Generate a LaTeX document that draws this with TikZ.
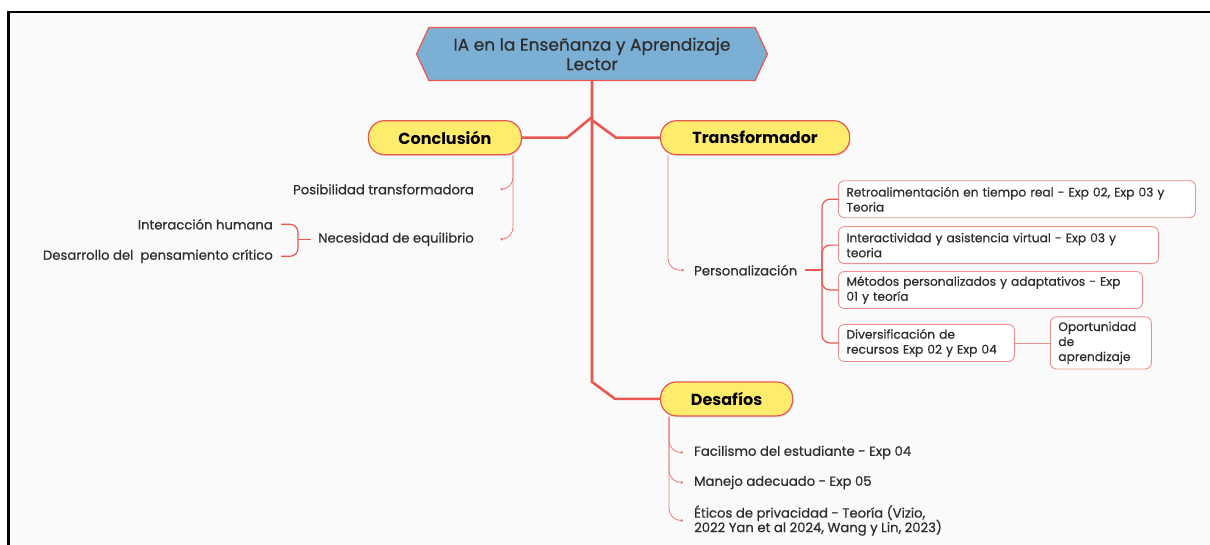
\documentclass[tikz,border=0pt]{standalone}
\usepackage{fontspec}
\setmainfont{Poppins}
\newfontfamily\medfont{Poppins}[FakeBold=0.6]
\usetikzlibrary{arrows.meta,positioning,shapes.symbols,shadows}

\definecolor{trunkred}{RGB}{232,88,80}
\definecolor{twigred}{RGB}{236,122,116}
\definecolor{boxred}{RGB}{238,145,140}
\definecolor{pillyellow}{RGB}{255,236,108}
\definecolor{rootblue}{RGB}{124,175,212}
\definecolor{inkgray}{RGB}{45,45,45}
\definecolor{paper}{RGB}{250,250,250}

\begin{document}
\lineskiplimit=-6pt
\begin{tikzpicture}[
        x=1pt, y=-1pt,
        rootbox/.style={signal, signal to=west and east, signal pointer angle=130, draw=trunkred, line width=1.2pt, fill=rootblue, minimum width=351pt, minimum height=53pt, align=center, font=\medfont\fontsize{17}{19.5}\selectfont, text=inkgray},
        pill/.style={draw=trunkred, line width=1.2pt, fill=pillyellow, rounded corners=16pt, minimum height=34pt, font=\fontsize{16}{18}\selectfont\bfseries, text=black, drop shadow={opacity=0.2, shadow xshift=1pt, shadow yshift=-1.5pt}},
        leaf/.style={inner sep=2pt, font=\medfont\fontsize{13.2}{14.5}\selectfont, text=inkgray},
        idea/.style={draw=boxred, line width=0.9pt, rounded corners=6pt, fill=white, align=left, inner xsep=8pt, inner ysep=4pt, minimum height=37pt, font=\medfont\fontsize{12.2}{15}\selectfont, text=inkgray},
        trunk/.style={draw=trunkred, line width=2.6pt},
        twig/.style={draw=twigred, line width=0.8pt, rounded corners=12pt, -{Circle[length=2.5pt]}},
        bracket/.style={draw=trunkred, line width=1.2pt, rounded corners=8pt}
        ]

        % Frame
        \useasboundingbox (0,0) rectangle (1210,545);
        \fill[white] (0,0) rectangle (1210,545);
        \fill[paper] (8,12) rectangle (1210,545);
        \draw[black, line width=2pt] (7,12) -- (1210,12);
        \draw[black, line width=3pt] (8,11) -- (8,545);

        % Nodes
        \node[rootbox] (root) at (592,54) {IA en la Enseñanza y Aprendizaje\\Lector};
        \node[pill, minimum width=153pt] (conclusion) [below left=39pt and 70pt of root.south] {Conclusión};
        \node[pill, minimum width=189pt] (transformador) [below right=39pt and 68pt of root.south] {Transformador};
        \node[pill, minimum width=132pt] (desafios) [below right=226pt and 0pt of transformador.south west] {Desafíos};

        \node[leaf] (posib) [below left=34pt and 46pt of conclusion.south east, anchor=east] {Posibilidad transformadora};
        \node[leaf] (necesidad) [below=50pt of posib.east, anchor=east] {Necesidad de equilibrio};
        \coordinate (hub1) at ([xshift=-178pt]necesidad.east);
        \node[leaf] (interaccion) [above left=15pt and 23pt of hub1, anchor=east] {Interacción humana};
        \node[leaf] (desarrollo) [below=32pt of interaccion.east, anchor=east] {Desarrollo del \ pensamiento crítico};

        \node[leaf] (pers) [below right=115pt and 32pt of transformador.south west, anchor=west] {Personalización};
        \coordinate (hub2) at ([xshift=130pt]pers.west);
        \node[idea, text width=341pt, anchor=north west] (retro) at ([shift={(16pt,90pt)}]hub2) {Retroalimentación en tiempo real - Exp 02, Exp 03 y\\Teoria};
        \node[idea, text width=304pt] (interact) [below=8pt of retro.south west, anchor=north west] {Interactividad y asistencia virtual - Exp 03 y\\teoria};
        \node[idea, text width=288pt] (metodos) [below=7pt of interact.south west, anchor=north west] {Métodos personalizados y adaptativos - Exp\\01 y teoría};
        \node[idea, text width=160pt] (diversif) [below=15pt of metodos.south west, anchor=north west] {Diversificación de\\recursos Exp 02 y Exp 04};
        \node[idea, text width=85pt, minimum height=52pt] (oportun) [right=35pt of diversif.east] {Oportunidad\\de\\aprendizaje};

        \node[leaf] (facil) [below right=36pt and 32pt of desafios.south west, anchor=west] {Facilismo del estudiante - Exp 04};
        \node[leaf] (manejo) [below=30pt of facil.west, anchor=west] {Manejo adecuado - Exp 05};
        \node[leaf, align=left] (eticos) [below=38pt of manejo.west, anchor=west] {Éticos de privacidad - Teoría (Vizio,\\2022 Yan et al 2024, Wang y Lin, 2023)};

        % Main branches
        \draw[trunk] (root.south) -- ([yshift=17pt]root.south |- desafios.west) -- ([xshift=-45pt]desafios.west) -- (desafios.west);
        \draw[trunk] ([yshift=-36pt]root.south) -- ([xshift=45pt]conclusion.east) -- (conclusion.east);
        \draw[trunk] ([yshift=-39pt]root.south) -- ([xshift=-44pt]transformador.west) -- (transformador.west);

        % Leaves
        \draw[twig] ([xshift=-9pt]conclusion.south east) |- ([xshift=27pt]posib.east);
        \draw[twig] ([xshift=-9pt]conclusion.south east) |- ([xshift=27pt]necesidad.east);
        \draw[bracket] ([xshift=-5pt]necesidad.west) -- (hub1);
        \draw[bracket] (hub1) |- ([xshift=6pt]interaccion.east);
        \draw[bracket] (hub1) |- ([xshift=6pt]desarrollo.east);

        \draw[twig] ([xshift=8pt]transformador.south west) |- ([xshift=-8pt]pers.west);
        \draw[trunkred, line width=2pt] ([xshift=6pt]pers.east) -- (hub2);
        \draw[bracket] (hub2) |- (retro.west);
        \draw[bracket] (hub2) |- (interact.west);
        \draw[bracket] (hub2) |- (metodos.west);
        \draw[bracket] (hub2) |- (diversif.west);
        \draw[boxred, line width=0.8pt] (diversif) -- (oportun);

        \draw[twig] ([xshift=9pt]desafios.south west) |- ([xshift=-9pt]facil.west);
        \draw[twig] ([xshift=9pt]desafios.south west) |- ([xshift=-9pt]manejo.west);
        \draw[twig] ([xshift=9pt]desafios.south west) |- ([xshift=-9pt]eticos.west);

    \end{tikzpicture}
\end{document}
